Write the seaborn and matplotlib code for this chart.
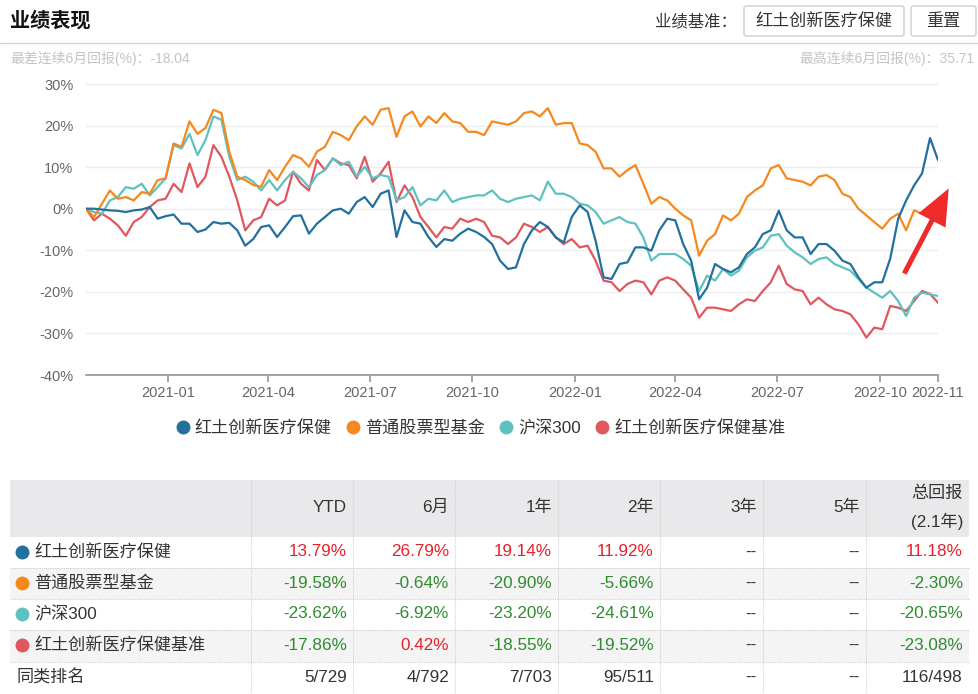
import matplotlib

matplotlib.use("Agg")

import matplotlib.pyplot as plt
import numpy as np
import pandas as pd
import seaborn as sns
from matplotlib.lines import Line2D
from matplotlib.patches import FancyArrowPatch, FancyBboxPatch, Rectangle

W, H = 979, 694

SERIES = ["红土创新医疗保健", "普通股票型基金", "沪深300", "红土创新医疗保健基准"]
COLORS = ["#22709e", "#f5891f", "#5ec1c0", "#e0575f"]

# cumulative return (%) sampled along the chart, left to right
FUND = [0, 0, -0.2, -0.4, -0.5, -0.8, -0.4, -0.2, 0.4, -2.4, -1.8, -1.4, -3.6, -3.6, -5.6, -5, -3.2, -3.6, -3.4, -5.2,
        -8.9, -7.3, -4.4, -4, -6.8, -4.4, -1.8,
        -1.6, -6, -3.6, -2, -0.4, 0, -1.2, 1.6, 2.8, 0.4, 3.6, 4.4, -6.8, -0.4, -3.2, -3.6, -6.8, -9.2, -7.3, -7.7,
        -6, -4.8, -5.6, -6.8, -8.5, -12.5, -14.5,
        -14.1, -8.5, -5.2, -3.2, -4.4, -6.9, -8.1, -2, 0.8, -0.8, -7.7, -16.5, -16.9, -13.3, -12.9, -9.3, -9.3, -10.1,
        -5.2, -2.4, -2.8, -8.5, -12.5, -21.8, -19, -13.3, -14.5,
        -15.3, -14.1, -10.9, -9.3, -6.1, -5.2, -0.5, -5.2, -6.9, -6.9, -10.9, -8.5, -8.5, -10.1, -12.5, -13.3, -16.5,
        -19, -17.7, -17.7, -12, -2.4, 2, 5.6, 8.5, 17, 11.7]
PEER = [0, -2, 1.2, 4.4, 2.4, 2.8, 2.0, 4, 3.6, 6.9, 7.3, 15.7, 14.9, 21, 18, 19.4, 23.8, 23, 13.7, 7.7,
        6.9, 5.7, 5.3, 9.3, 6.9, 10.1, 12.9,
        12.1, 10.1, 13.7, 14.9, 18.5, 17.7, 16.5, 19.8, 22.2, 20.2, 23.8, 24.2, 17.3, 22.2, 23.4, 19.8, 22.2, 20.6, 23, 21,
        20.6, 18.5, 18.5, 17.7, 21, 20.6, 20.2,
        21, 23, 23.4, 22.2, 24.2, 20.2, 20.6, 20.6, 15.7, 15.3, 13.7, 9.7, 9.7, 7.7, 9.3, 10.5, 6, 1.2, 2.8, 2,
        0, -1.6, -2.8, -11.3, -7.7, -6.1, -1.6,
        -2.8, -1.2, 2.8, 4.4, 5.6, 9.7, 10.5, 7.3, 6.9, 6.5, 5.6, 7.7, 8.1, 6.9, 3.6, 2.8, 0, -1.6, -3.2, -4.8,
        -2.4, -1.2, -5.2, -0.4, -1.2, 0.8, 0.4]
HS300 = [0, -0.8, -1.2, 2, 2.8, 5.2, 4.8, 6, 3.2, 5.2, 7.3, 15.3, 14.5, 18, 12.9, 16.5, 22.2, 21.4, 12.5, 6.9,
         7.7, 6.5, 4.4, 6.9, 4.4, 6.9, 8.9,
         7.3, 5.2, 8.1, 9.3, 12.1, 10.5, 11.3, 7.7, 10.1, 7.3, 8.1, 7.7, 2, 2.8, 5.2, 0.8, 2.4, 2, 4.4, 1.6,
         2.4, 2.8, 3.2, 3.2, 4.4, 2.4, 1.6,
         2.4, 2.8, 3.2, 2, 6.5, 3.6, 3.6, 2.8, 1.2, 0.8, -0.8, -3.6, -2.8, -2, -3.2, -3.6, -6.9, -12.5, -10.9, -10.9,
         -10.9, -12.1, -13.7, -19.8, -16.1, -17.3, -14.5,
         -16.1, -14.9, -11.7, -10.1, -9.3, -6.5, -6.1, -8.9, -10.5, -11.7, -13.3, -12.1, -11.7, -13.3, -14.1, -14.9,
         -16.9, -19, -20.2, -21.4, -19.8, -22.2, -25.8, -21.4, -20.2, -20.6, -21]
BENCH = [0, -2.8, -1.2, -2.4, -4, -6.5, -3.2, -2, 0.4, 2, 2.4, 6, 4, 10.9, 5.2, 7.7, 15.3, 12.5, 7.7, 2,
         -5.2, -2.8, -2, 2.4, 0.8, 2, 8.9,
         6, 4.4, 11.7, 9.3, 12.1, 10.9, 10.5, 7.3, 12.5, 6.5, 8.5, 11.3, 1.6, 5.6, 2.8, -2, -4.4, -6.9, -4.4, -4.8,
         -2.4, -3.2, -2.4, -3.2, -6.5, -6.9, -8.5,
         -6.9, -3.6, -4.4, -5.6, -4.4, -6.9, -8.5, -7.3, -9.3, -8.9, -12.5, -17.3, -17.7, -19.8, -18.1, -17.3, -17.7,
         -20.6, -17.3, -16.5, -17.3, -19.4, -21.4, -26.2, -23.8, -23.8, -24.2,
         -24.6, -23, -21.8, -22.2, -19.8, -17.7, -13.7, -18.1, -19.4, -19.8, -23, -21.4, -23, -24.2, -24.6, -25.4,
         -27.8, -31, -28.6, -29, -23.4, -23.8, -24.6, -22.2, -19.8, -20.5, -22.6]

TICK_POS = [10.3, 22.9, 35.7, 48.5, 61.4, 74.0, 86.8, 99.7, 107]
TICK_LABELS = ["2021-01", "2021-04", "2021-07", "2021-10", "2022-01", "2022-04", "2022-07", "2022-10", "2022-11"]
Y_TICKS = [-40, -30, -20, -10, 0, 10, 20, 30]

TABLE_COLS = ["YTD", "6月", "1年", "2年", "3年", "5年"]
FUND_RET = ["13.79%", "26.79%", "19.14%", "11.92%", "--", "--", "11.18%"]
PEER_RET = ["-19.58%", "-0.64%", "-20.90%", "-5.66%", "--", "--", "-2.30%"]
HS300_RET = ["-23.62%", "-6.92%", "-23.20%", "-24.61%", "--", "--", "-20.65%"]
BENCH_RET = ["-17.86%", "0.42%", "-18.55%", "-19.52%", "--", "--", "-23.08%"]
RANK = ["5/729", "4/792", "7/703", "95/511", "--", "--", "116/498"]

sns.set_theme(style="white")
plt.rcParams["font.family"] = ["Liberation Sans", "Noto Sans CJK SC", "DejaVu Sans"]


def fx(x):
    return x / W


def fy(y):
    return 1 - y / H


fig = plt.figure(figsize=(W / 100, H / 100), dpi=100)

# header
fig.text(fx(10), fy(21), "业绩表现", fontsize=14.5, fontweight="bold", color="#111111", va="center")
fig.add_artist(Line2D([0, 1], [fy(43), fy(43)], color="#d4d4d4", lw=1, transform=fig.transFigure))
fig.text(fx(737), fy(21), "业绩基准：", fontsize=11.8, color="#333333", va="center", ha="right")
for x0, x1, label in [(744, 904, "红土创新医疗保健"), (911, 976, "重置")]:
    fig.add_artist(FancyBboxPatch((fx(x0), fy(36)), fx(x1 - x0), (36 - 6) / H,
                                  boxstyle="round,pad=0,rounding_size=0.003", fc="white", ec="#cfcfcf", lw=1,
                                  transform=fig.transFigure))
    fig.text(fx((x0 + x1) / 2), fy(21), label, fontsize=12.3, color="#333333", va="center", ha="center")
fig.text(fx(10), fy(59), "最差连续6月回报(%)：-18.04", fontsize=10, color="#c4c4c4", va="center")
fig.text(fx(975), fy(59), "最高连续6月回报(%)：35.71", fontsize=10, color="#c4c4c4", va="center", ha="right")

# line chart
ax = fig.add_axes([fx(86), fy(375), fx(938 - 86), (375 - 84) / H])
frames = []
for name, vals in zip(SERIES, [FUND, PEER, HS300, BENCH]):
    frames.append(pd.DataFrame({"idx": np.arange(len(vals)), "ret": vals, "name": name}))
df = pd.concat(frames, ignore_index=True)
draw_order = [SERIES[3], SERIES[2], SERIES[1], SERIES[0]]
sns.lineplot(data=df, x="idx", y="ret", hue="name", hue_order=draw_order,
             palette=dict(zip(SERIES, COLORS)), linewidth=1.6, legend=False, ax=ax)
ax.set_xlim(0, 107)
ax.set_ylim(-40, 30)
ax.set_yticks(Y_TICKS)
ax.set_yticklabels([f"{v}%" for v in Y_TICKS])
ax.set_xticks(TICK_POS)
ax.set_xticklabels(TICK_LABELS)
ax.set_xlabel("")
ax.set_ylabel("")
ax.yaxis.grid(True, color="#eeeeee", lw=1)
ax.xaxis.grid(False)
ax.set_axisbelow(True)
for side in ["top", "right", "left"]:
    ax.spines[side].set_visible(False)
ax.spines["bottom"].set_color("#999999")
ax.tick_params(axis="x", length=5, color="#999999", labelsize=10.5, labelcolor="#666666", pad=3, bottom=True)
ax.tick_params(axis="y", length=0, labelsize=10.5, labelcolor="#666666", pad=9)

# red arrow
fig.patches.append(FancyArrowPatch(
    (fx(903), fy(276)), (fx(950), fy(186)), transform=fig.transFigure,
    arrowstyle="simple,head_length=1.3,head_width=1.1,tail_width=0.18", mutation_scale=20,
    color="#ee2a2a", lw=0))

# legend
handles = [Line2D([], [], marker="o", linestyle="", markersize=9, color=c) for c in COLORS]
leg = fig.legend(handles, SERIES, loc="center", bbox_to_anchor=(fx(481), fy(428)), ncol=4, frameon=False,
                 fontsize=12.3, handlelength=0.7, handletextpad=0.35, columnspacing=0.9)
for t in leg.get_texts():
    t.set_color("#333333")

# table
edges = [251, 353, 455, 558, 660, 763, 866, 969]
row_bounds = [537, 568, 599, 630, 662, 694]
fig.add_artist(Rectangle((fx(10), fy(537)), fx(969 - 10), (537 - 480) / H, fc="#e9e9eb", ec="none",
                         transform=fig.transFigure))
for k in range(5):
    top, bot = row_bounds[k], row_bounds[k + 1]
    fc = "#f4f4f4" if k % 2 == 1 else "white"
    fig.add_artist(Rectangle((fx(10), fy(bot)), fx(969 - 10), (bot - top) / H, fc=fc, ec="none",
                             transform=fig.transFigure))
for yb in row_bounds[1:-1]:
    fig.add_artist(Line2D([fx(10), fx(969)], [fy(yb), fy(yb)], color="#cfcfcf", lw=0.8, ls=(0, (1, 1)),
                          transform=fig.transFigure))
for xe in edges[:-1]:
    fig.add_artist(Line2D([fx(xe), fx(xe)], [fy(480), fy(694)], color="#d2d2d2", lw=0.8, ls=(0, (1, 1)),
                          transform=fig.transFigure))

for j, col in enumerate(TABLE_COLS):
    fig.text(fx(edges[j + 1] - 6), fy(507), col, fontsize=12.3, color="#333333", ha="right", va="center")
fig.text(fx(edges[-1] - 6), fy(493), "总回报", fontsize=12.3, color="#333333", ha="right", va="center")
fig.text(fx(edges[-1] - 6), fy(521), "(2.1年)", fontsize=12.3, color="#333333", ha="right", va="center")

row_y = [552, 583, 614, 645, 677]
for k, (name, vals) in enumerate(zip(SERIES + ["同类排名"], [FUND_RET, PEER_RET, HS300_RET, BENCH_RET, RANK])):
    yc = row_y[k]
    if k < 4:
        fig.add_artist(Line2D([fx(22)], [fy(yc)], marker="o", markersize=9, color=COLORS[k], linestyle="",
                              transform=fig.transFigure))
        fig.text(fx(34), fy(yc), name, fontsize=12.3, color="#333333", va="center")
    else:
        fig.text(fx(16), fy(yc), name, fontsize=12.3, color="#333333", va="center")
    for j, v in enumerate(vals):
        if k < 4 and v != "--":
            color = "#2e8b2e" if v.startswith("-") else "#e8202a"
        else:
            color = "#333333"
        fig.text(fx(edges[j + 1] - 6), fy(yc), v, fontsize=12.3, color=color, ha="right", va="center")

fig.savefig("out.png", dpi=100)
plt.close(fig)
